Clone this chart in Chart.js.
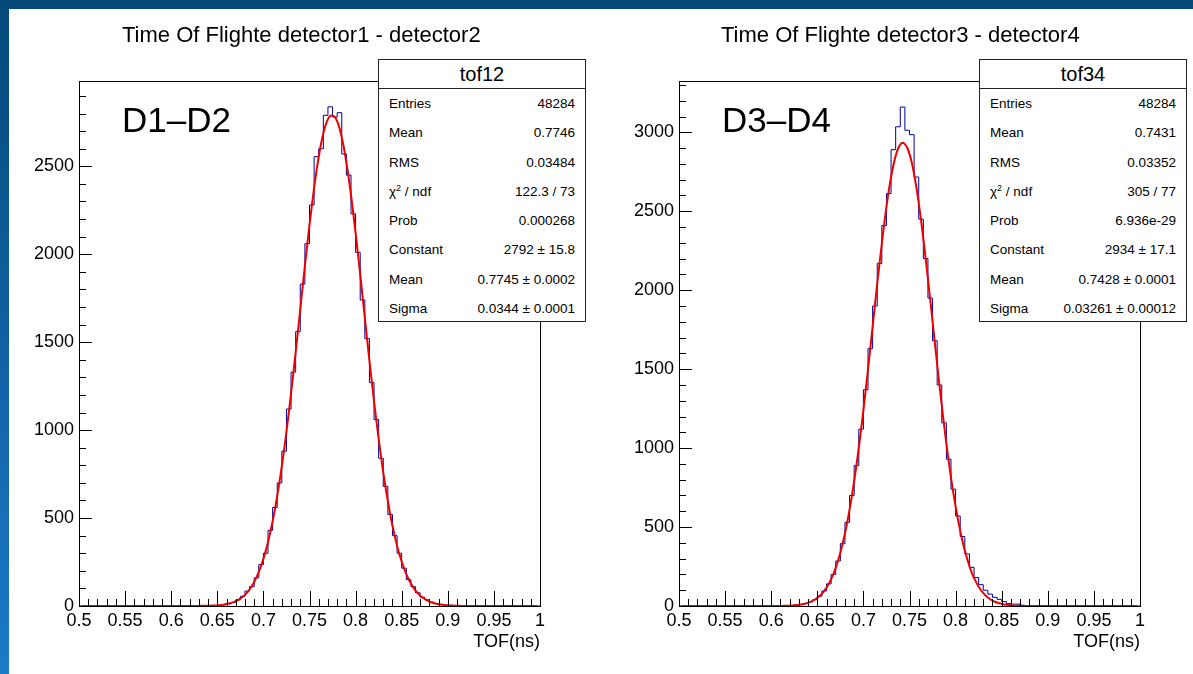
<!DOCTYPE html>
<html>
<head>
<meta charset="utf-8">
<script src="https://cdn.jsdelivr.net/npm/chart.js@4/dist/chart.umd.min.js"></script>
<style>
  body { margin: 0; width: 1193px; height: 674px; overflow: hidden; background: #fff; position: relative;
         font-family: "Liberation Sans", Arial, sans-serif; color: #000; }
  .edge-top { position: absolute; left: 0; top: 0; width: 1193px; height: 9px; background: #04497a; }
  .edge-left { position: absolute; left: 0; top: 0; width: 9px; height: 674px; background: linear-gradient(#04497a, #1c7ac9); }
  .pane { position: absolute; top: 0; width: 593px; height: 674px; }
  .title { position: absolute; top: 24px; font-size: 22px; line-height: 1; white-space: nowrap; }
  .tag { position: absolute; top: 102px; font-size: 35px; line-height: 1; white-space: nowrap; }
  .stats { position: absolute; top: 59px; width: 208px; height: 263px; box-sizing: border-box;
           border: 1px solid #222; background: #fff; }
  .stats .head { height: 28px; line-height: 28px; border-bottom: 1px solid #222; text-align: center; font-size: 20px; }
  .stats .row { display: flex; justify-content: space-between; height: 29.25px; line-height: 29.25px;
                font-size: 13.5px; padding: 0 10px 0 10px; }
  .stats sup { font-size: 9px; line-height: 0; }
</style>
</head>
<body>
<div class="edge-top"></div>
<div class="edge-left"></div>

<div class="pane" style="left:0px"><canvas id="tof12Chart"></canvas></div>
<div class="pane" style="left:600px"><canvas id="tof34Chart"></canvas></div>

<div class="title" style="left:122px">Time Of Flighte detector1 - detector2</div>
<div class="title" style="left:721px">Time Of Flighte detector3 - detector4</div>
<div class="tag" style="left:122px">D1–D2</div>
<div class="tag" style="left:722px">D3–D4</div>
<div class="stats" id="stats12" style="left:378px"></div>
<div class="stats" id="stats34" style="left:979px"></div>

<script>
// histogram binning: 100 bins of 0.005 ns from 0.5 to 1.0
const binLow = 0.5;
const binWidth = 0.005;

// tof12 bin contents
const tof12Counts = [
    0, 0, 0, 0, 0, 0, 0, 0, 0, 0,
    0, 0, 0, 0, 0, 0, 0, 0, 0, 0,
    0, 0, 0, 0, 0, 0, 0, 0, 1, 2,
    4, 7, 12, 20, 35, 55, 85, 110, 160, 235,
    300, 430, 560, 700, 880, 1120, 1330, 1560, 1830, 2060,
    2280, 2555, 2600, 2790, 2838, 2780, 2805, 2570, 2450, 2230,
    2010, 1740, 1520, 1270, 1060, 840, 680, 520, 400, 300,
    215, 150, 110, 75, 50, 35, 22, 14, 8, 5,
    3, 2, 1, 0, 0, 0, 0, 0, 0, 0,
    0, 0, 0, 0, 0, 0, 0, 0, 0, 0
];
// gaussian fit curve of tof12, at bin centres
const tof12Fit = [
    0, 0, 0, 0, 0, 0, 0, 0, 0, 0,
    0, 0, 0, 0, 0, 0, 0, 0, 0, 0,
    0, 0, 0, 0, 0, 0, 1, 1, 2, 3,
    5, 9, 14, 22, 34, 52, 78, 114, 163, 228,
    312, 419, 550, 707, 890, 1098, 1326, 1565, 1812, 2052,
    2275, 2471, 2627, 2735, 2787, 2781, 2717, 2600, 2435, 2233,
    2005, 1763, 1516, 1278, 1055, 852, 674, 522, 396, 294,
    214, 152, 106, 72, 48, 32, 20, 13, 8, 5,
    3, 2, 1, 0, 0, 0, 0, 0, 0, 0,
    0, 0, 0, 0, 0, 0, 0, 0, 0, 0
];

// tof34 bin contents
const tof34Counts = [
    0, 0, 0, 0, 0, 0, 0, 0, 0, 0,
    0, 0, 0, 0, 0, 0, 0, 0, 0, 0,
    0, 0, 1, 2, 3, 6, 10, 16, 26, 40,
    62, 95, 140, 200, 285, 395, 530, 700, 890, 1120,
    1370, 1630, 1900, 2170, 2410, 2612, 2890, 3035, 3160, 3013,
    2985, 2717, 2450, 2200, 1950, 1680, 1400, 1160, 930, 740,
    570, 440, 330, 245, 180, 135, 100, 75, 55, 42,
    28, 15, 12, 12, 5, 3, 2, 1, 0, 0,
    0, 0, 0, 0, 0, 0, 0, 0, 0, 0,
    0, 0, 0, 0, 0, 0, 0, 0, 0, 0
];
const tof34Fit = [
    0, 0, 0, 0, 0, 0, 0, 0, 0, 0,
    0, 0, 0, 0, 0, 0, 0, 0, 0, 0,
    0, 0, 1, 2, 3, 6, 10, 16, 26, 41,
    63, 96, 141, 204, 287, 396, 531, 697, 893, 1118,
    1367, 1633, 1906, 2171, 2417, 2629, 2791, 2895, 2934, 2904,
    2807, 2650, 2445, 2202, 1938, 1666, 1398, 1146, 918, 718,
    549, 410, 299, 212, 148, 100, 67, 43, 27, 17,
    10, 6, 3, 2, 1, 0, 0, 0, 0, 0,
    0, 0, 0, 0, 0, 0, 0, 0, 0, 0,
    0, 0, 0, 0, 0, 0, 0, 0, 0, 0
];

// axis ranges and labelled ticks
const tof12YMax = 2985;
const tof34YMax = 3325;
const tof12YTicks = [0, 500, 1000, 1500, 2000, 2500];
const tof34YTicks = [0, 500, 1000, 1500, 2000, 2500, 3000];
const xTicks = [0.5, 0.55, 0.6, 0.65, 0.7, 0.75, 0.8, 0.85, 0.9, 0.95, 1];

// stat box texts
const tof12Stats = [
    ['Entries', '48284'], ['Mean', '0.7746'], ['RMS', '0.03484'],
    ['χ<sup>2</sup> / ndf', '122.3 / 73'], ['Prob', '0.000268'],
    ['Constant', '2792 ± 15.8'], ['Mean', '0.7745 ± 0.0002'], ['Sigma', '0.0344 ± 0.0001']
];
const tof34Stats = [
    ['Entries', '48284'], ['Mean', '0.7431'], ['RMS', '0.03352'],
    ['χ<sup>2</sup> / ndf', '305 / 77'], ['Prob', '6.936e-29'],
    ['Constant', '2934 ± 17.1'], ['Mean', '0.7428 ± 0.0001'], ['Sigma', '0.03261 ± 0.00012']
];

const FONT = 'Liberation Sans, Arial, sans-serif';

function fillStats(id, name, rows) {
    let html = '<div class="head">' + name + '</div>';
    rows.forEach(function (r) {
        html += '<div class="row"><span>' + r[0] + '</span><span>' + r[1] + '</span></div>';
    });
    document.getElementById(id).innerHTML = html;
}

// ROOT-style frame with ticks pointing into the pad
const rootFrame = {
    id: 'rootFrame',
    afterDatasetsDraw(chart) {
        const { ctx, chartArea: a } = chart;
        const x = chart.scales.x, y = chart.scales.y;
        ctx.save();
        ctx.strokeStyle = '#000';
        ctx.lineWidth = 1;
        ctx.beginPath();
        for (let k = 0; k <= 50; k++) {
            const px = Math.round(x.getPixelForValue(0.5 + k * 0.01)) + 0.5;
            const len = k % 5 === 0 ? 15 : 7;
            ctx.moveTo(px, a.bottom);
            ctx.lineTo(px, a.bottom - len);
        }
        for (let v = 0; v <= y.max; v += 100) {
            const py = Math.round(y.getPixelForValue(v)) + 0.5;
            const len = v % 500 === 0 ? 13 : 7;
            ctx.moveTo(a.left, py);
            ctx.lineTo(a.left + len, py);
        }
        ctx.stroke();
        ctx.strokeRect(Math.round(a.left) + 0.5, Math.round(a.top) + 0.5,
            Math.round(a.right - a.left), Math.round(a.bottom - a.top));
        ctx.restore();
    }
};

function drawHisto(canvasId, counts, fit, yMax, yTicks) {
    const histo = counts.map((c, i) => ({ x: binLow + i * binWidth, y: c }));
    histo.push({ x: binLow + counts.length * binWidth, y: counts[counts.length - 1] });
    const curve = fit.map((f, i) => ({ x: binLow + (i + 0.5) * binWidth, y: f }));

    new Chart(document.getElementById(canvasId), {
        type: 'line',
        data: {
            datasets: [{
                data: curve,
                borderColor: '#ee0000',
                borderWidth: 2,
                pointRadius: 0,
                tension: 0.3,
                clip: 3
            }, {
                data: histo,
                borderColor: '#000099',
                borderWidth: 1,
                pointRadius: 0,
                stepped: true
            }]
        },
        options: {
            responsive: true,
            maintainAspectRatio: false,
            animation: false,
            layout: { padding: { left: 0, top: 81, right: 53, bottom: 0 } },
            plugins: { legend: { display: false }, tooltip: { enabled: false } },
            scales: {
                x: {
                    type: 'linear', min: 0.5, max: 1,
                    grid: { display: false, drawTicks: false },
                    border: { display: false },
                    afterBuildTicks(scale) { scale.ticks = xTicks.map(v => ({ value: v })); },
                    ticks: {
                        autoSkip: false, maxRotation: 0, padding: 4,
                        color: '#000', font: { family: FONT, size: 18 },
                        callback: v => String(v)
                    },
                    title: {
                        display: true, text: 'TOF(ns)', align: 'end', color: '#000',
                        font: { family: FONT, size: 18 }, padding: { top: 0, bottom: 21 }
                    },
                    afterFit(scale) { scale.height = 68; }
                },
                y: {
                    min: 0, max: yMax,
                    grid: { display: false, drawTicks: false },
                    border: { display: false },
                    afterBuildTicks(scale) { scale.ticks = yTicks.map(v => ({ value: v })); },
                    ticks: {
                        autoSkip: false, padding: 5,
                        color: '#000', font: { family: FONT, size: 18 },
                        callback: v => String(v)
                    },
                    afterFit(scale) { scale.width = 79; }
                }
            }
        },
        plugins: [rootFrame]
    });
}

document.addEventListener('DOMContentLoaded', function () {
    fillStats('stats12', 'tof12', tof12Stats);
    fillStats('stats34', 'tof34', tof34Stats);
    drawHisto('tof12Chart', tof12Counts, tof12Fit, tof12YMax, tof12YTicks);
    drawHisto('tof34Chart', tof34Counts, tof34Fit, tof34YMax, tof34YTicks);
});
</script>
</body>
</html>
